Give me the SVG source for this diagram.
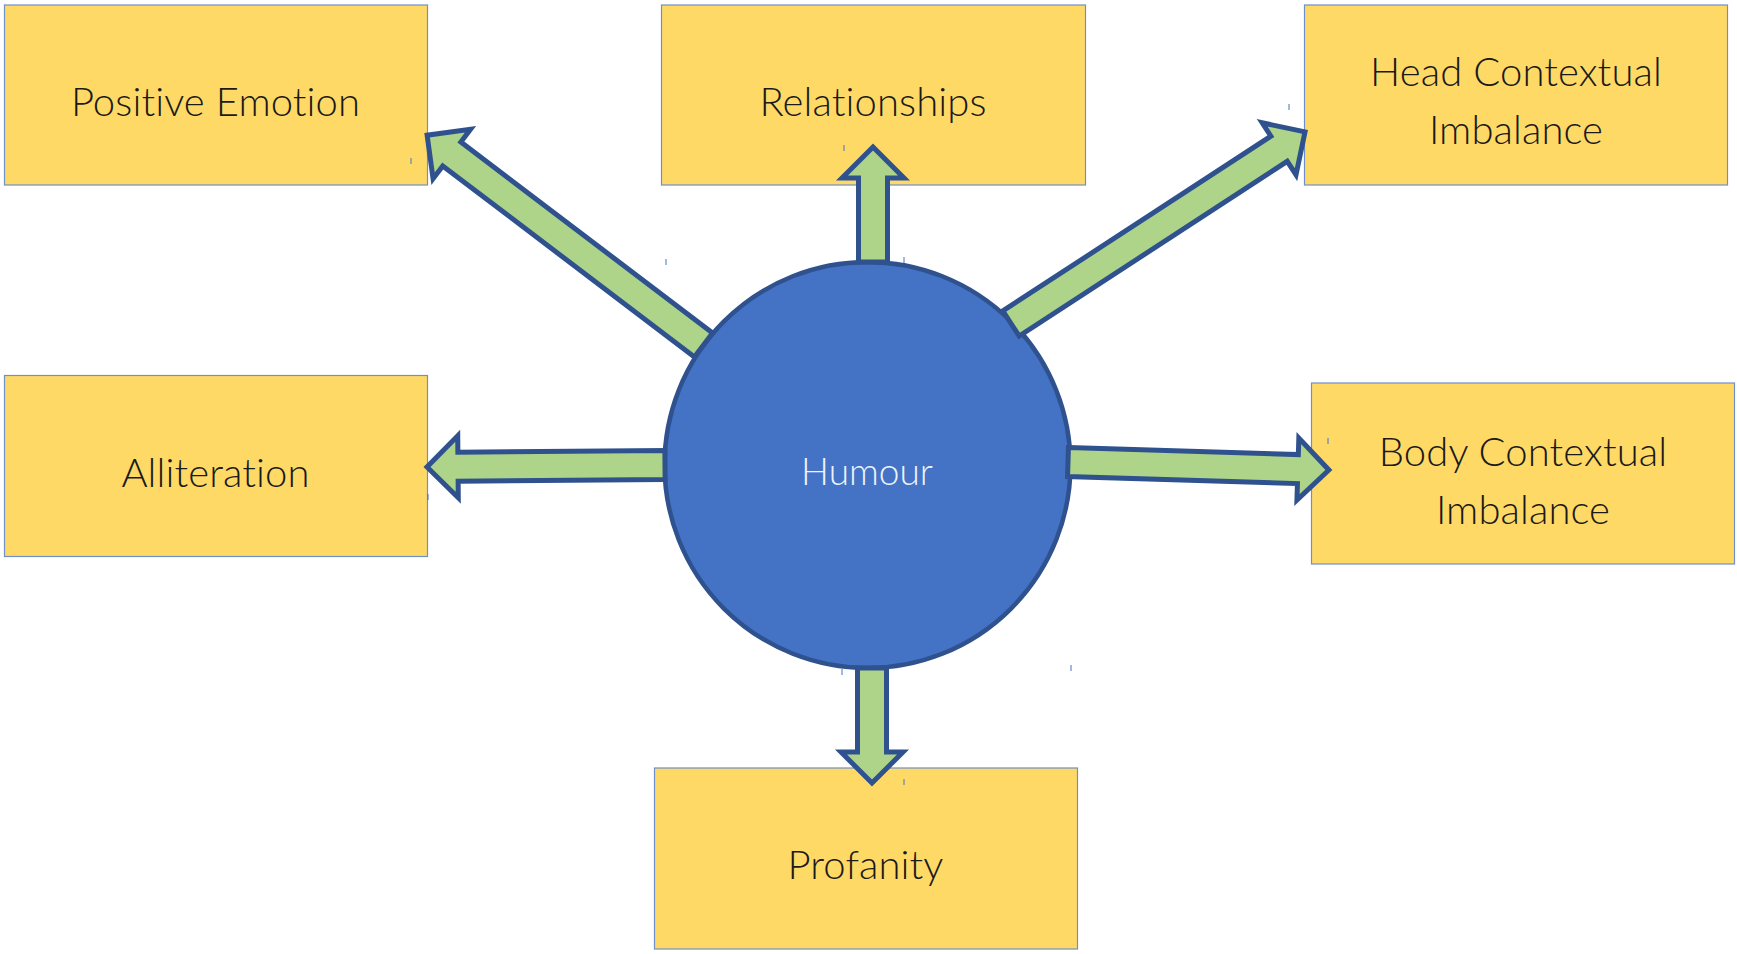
<svg xmlns="http://www.w3.org/2000/svg" width="1737" height="954" viewBox="0 0 1737 954">
  <style>
    .box { fill: #FFD966; stroke: #6F8FC8; stroke-width: 1.2; }
    .label { font-family: Lato, "Liberation Sans", sans-serif; font-weight: 300; font-size: 40px; fill: #1a1a1a; text-anchor: middle; font-variant-ligatures: none; font-feature-settings: "liga" 0, "clig" 0, "dlig" 0; letter-spacing: 0.1px; }
    .hub { fill: #4472C4; stroke: #2F528F; stroke-width: 4.5; }
    .hub-label { font-family: Lato, "Liberation Sans", sans-serif; font-weight: 300; font-size: 37px; fill: #EEF2FA; text-anchor: middle; font-variant-ligatures: none; }
    .arrow { fill: #AED48A; stroke: #2F528F; stroke-width: 5; stroke-linejoin: miter; stroke-miterlimit: 10; }
    .tick { stroke: #4472C4; stroke-width: 1; }
  </style>

  <!-- outer nodes -->
  <g id="node-positive-emotion">
    <rect class="box" x="4.5" y="5" width="423" height="180"/>
    <text class="label" x="215.5" y="116">Positive Emotion</text>
  </g>
  <g id="node-relationships">
    <rect class="box" x="661.5" y="5" width="424" height="180"/>
    <text class="label" x="873" y="116">Relationships</text>
  </g>
  <g id="node-head-contextual-imbalance">
    <rect class="box" x="1304.5" y="5" width="423" height="180"/>
    <text class="label" x="1516" y="86">Head Contextual</text>
    <text class="label" x="1516" y="144">Imbalance</text>
  </g>
  <g id="node-alliteration">
    <rect class="box" x="4.5" y="375.5" width="423" height="181"/>
    <text class="label" x="215.5" y="487">Alliteration</text>
  </g>
  <g id="node-body-contextual-imbalance">
    <rect class="box" x="1311.5" y="383" width="423" height="181"/>
    <text class="label" x="1523" y="466">Body Contextual</text>
    <text class="label" x="1523" y="524">Imbalance</text>
  </g>
  <g id="node-profanity">
    <rect class="box" x="654.5" y="768" width="423" height="181"/>
    <text class="label" x="865.5" y="879">Profanity</text>
  </g>

  <!-- central node -->
  <g id="node-humour">
    <circle class="hub" cx="867.5" cy="465" r="203"/>
    <text class="hub-label" x="867" y="485">Humour</text>
  </g>

  <!-- block arrows from the hub; each drawn along +x then placed -->
  <g id="connectors">
    <!-- up: Relationships -->
    <polygon class="arrow" transform="translate(873,262) rotate(-90)"
      points="0,-14.5 84,-14.5 84,-31 115,0 84,31 84,14.5 0,14.5"/>
    <!-- down: Profanity -->
    <polygon class="arrow" transform="translate(872,668) rotate(90)"
      points="0,-14.5 84,-14.5 84,-31 115,0 84,31 84,14.5 0,14.5"/>
    <!-- left: Alliteration -->
    <polygon class="arrow" transform="translate(665,465) rotate(179.5)"
      points="0,-14.5 207,-14.5 207,-31 238,0 207,31 207,14.5 0,14.5"/>
    <!-- right: Body Contextual Imbalance -->
    <polygon class="arrow" transform="translate(1068,462) rotate(1.76)"
      points="0,-14.5 230,-14.5 230,-31 261,0 230,31 230,14.5 0,14.5"/>
    <!-- upper left: Positive Emotion -->
    <polygon class="arrow" transform="translate(703.5,345) rotate(-142.8)"
      points="0,-15 316,-15 316,-31 347,0 316,31 316,15 0,15"/>
    <!-- upper right: Head Contextual Imbalance -->
    <polygon class="arrow" transform="translate(1011,323.5) rotate(-33.1)"
      points="0,-15 320,-15 320,-31 351,0 320,31 320,15 0,15"/>
  </g>

  <!-- stray caret marks -->
  <g id="marks">
    <line class="tick" x1="411" y1="158" x2="411" y2="164"/>
    <line class="tick" x1="844" y1="145" x2="844" y2="151"/>
    <line class="tick" x1="666" y1="259" x2="666" y2="265"/>
    <line class="tick" x1="904" y1="257" x2="904" y2="263"/>
    <line class="tick" x1="1289" y1="104" x2="1289" y2="110"/>
    <line class="tick" x1="1028" y1="345" x2="1028" y2="351"/>
    <line class="tick" x1="1328" y1="438" x2="1328" y2="444"/>
    <line class="tick" x1="842" y1="669" x2="842" y2="675"/>
    <line class="tick" x1="1071" y1="665" x2="1071" y2="671"/>
    <line class="tick" x1="904" y1="779" x2="904" y2="785"/>
    <line class="tick" x1="428" y1="494" x2="428" y2="500"/>
  </g>
</svg>
